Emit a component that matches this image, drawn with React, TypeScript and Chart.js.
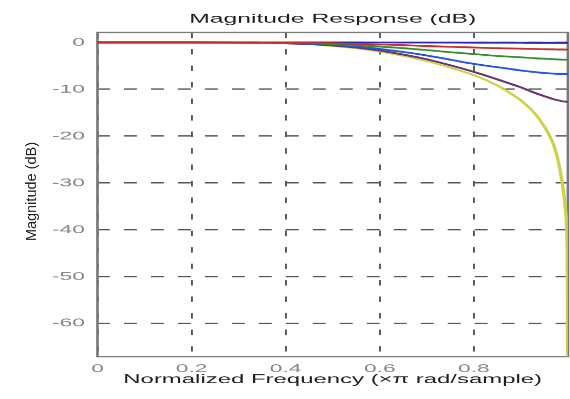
import React, { useEffect, useRef } from 'react';
import { Chart, registerables } from 'chart.js';

Chart.register(...registerables);

// ---- text ----
const TITLE = 'Magnitude Response (dB)';
const X_LABEL = 'Normalized Frequency (\u00D7\u03C0 rad/sample)';
const Y_LABEL = 'Magnitude (dB)';

// ---- ticks ----
const X_TICKS = [0, 0.2, 0.4, 0.6, 0.8];
const Y_TICKS = [0, -10, -20, -30, -40, -50, -60];

// ---- data (normalized frequency, magnitude in dB) ----
const FREQ = [0, 0.1, 0.2, 0.3, 0.35, 0.4, 0.45, 0.5, 0.55, 0.6, 0.65, 0.7, 0.75, 0.8, 0.85, 0.875, 0.9, 0.93, 0.95, 0.97, 0.98, 0.99, 0.995, 0.998, 0.999, 1.0];
const MAG_DARKBLUE = [0, 0, 0, 0, 0, 0, 0, 0, -0.01, -0.02, -0.03, -0.04, -0.05, -0.06, -0.07, -0.075, -0.08, -0.09, -0.09, -0.1, -0.1, -0.1, -0.1, -0.1, -0.1, -0.1];
const MAG_RED = [0, 0, 0, 0, -0.02, -0.05, -0.1, -0.18, -0.3, -0.45, -0.6, -0.8, -0.95, -1.1, -1.25, -1.3, -1.35, -1.42, -1.46, -1.5, -1.52, -1.53, -1.54, -1.55, -1.55, -1.55];
const MAG_GREEN = [0, 0, 0, -0.02, -0.05, -0.1, -0.2, -0.35, -0.6, -0.9, -1.25, -1.65, -2.1, -2.5, -2.9, -3.05, -3.2, -3.4, -3.5, -3.6, -3.65, -3.7, -3.7, -3.7, -3.7, -3.7];
const MAG_BLUE = [0, 0, 0, -0.03, -0.07, -0.15, -0.3, -0.55, -0.9, -1.4, -2.05, -2.8, -3.7, -4.6, -5.3, -5.65, -6.0, -6.35, -6.55, -6.68, -6.72, -6.75, -6.75, -6.75, -6.75, -6.75];
const MAG_PURPLE = [0, 0, 0, -0.04, -0.1, -0.2, -0.38, -0.68, -1.1, -1.75, -2.6, -3.6, -4.9, -6.3, -7.9, -8.75, -9.6, -10.8, -11.5, -12.15, -12.4, -12.6, -12.65, -12.7, -12.7, -12.7];
const MAG_YELLOW = [0, 0, 0, -0.04, -0.1, -0.22, -0.42, -0.78, -1.25, -1.95, -2.9, -4.0, -5.4, -7.0, -9.2, -10.7, -12.4, -15.2, -18.0, -22.0, -25.6, -31.5, -36.0, -42.0, -52.0, -100];

// ---- styles ----
const COLOR_RED = '#c43030';
const COLOR_DARKBLUE = '#2a2ab4';
const COLOR_GREEN = '#3f8a2a';
const COLOR_BLUE = '#1f55e0';
const COLOR_PURPLE = '#6a3570';
const COLOR_YELLOW = '#cdd24a';
const GRID_COLOR = '#555555';
const FRAME_COLOR = '#7a7a7a';
const TEXT_COLOR = '#1e1e1e';
const TICK_COLOR = '#858585';
const FONT = '"Liberation Sans", Arial, sans-serif';

// The reference is horizontally stretched; draw at a narrower logical width
// and let the device pixel ratio widen it.
const STRETCH = 1.9;
const LOGICAL_W = 300;
const LOGICAL_H = 399;
const YLABEL_X = 17.1;

const framePlugin = {
  id: 'frameAndYLabel',
  beforeDatasetsDraw(chart: any) {
    const { ctx, chartArea } = chart;
    const { left, top, right, bottom } = chartArea;
    ctx.save();
    ctx.strokeStyle = FRAME_COLOR;
    ctx.lineWidth = 1.4;
    ctx.setLineDash([]);
    ctx.strokeRect(left, top, right - left, bottom - top);
    ctx.restore();
  },
  afterDraw(chart: any) {
    const { ctx, chartArea } = chart;
    ctx.save();
    ctx.translate(YLABEL_X, (chartArea.top + chartArea.bottom) / 2 - 3);
    ctx.scale(1 / STRETCH, 1);
    ctx.rotate(-Math.PI / 2);
    ctx.font = `14.5px ${FONT}`;
    ctx.fillStyle = TEXT_COLOR;
    ctx.textAlign = 'center';
    ctx.textBaseline = 'middle';
    ctx.fillText(Y_LABEL, 0, 0);
    ctx.restore();
  },
};

export default function App() {
  const ref = useRef<HTMLCanvasElement>(null);

  useEffect(() => {
    const canvas = ref.current;
    if (!canvas) return;
    const mk = (vals: number[], color: string) => ({
      data: FREQ.map((f, i) => ({ x: f, y: vals[i] })),
      borderColor: color,
      backgroundColor: color,
      borderWidth: 1.8,
      pointRadius: 0,
      cubicInterpolationMode: 'monotone' as const,
      fill: false,
    });

    const chart = new Chart(canvas, {
      type: 'line',
      data: {
        datasets: [
          mk(MAG_RED, COLOR_RED),
          mk(MAG_DARKBLUE, COLOR_DARKBLUE),
          mk(MAG_GREEN, COLOR_GREEN),
          mk(MAG_BLUE, COLOR_BLUE),
          mk(MAG_PURPLE, COLOR_PURPLE),
          mk(MAG_YELLOW, COLOR_YELLOW),
        ],
      },
      options: {
        responsive: false,
        animation: false,
        devicePixelRatio: STRETCH,
        layout: { padding: { left: 0, right: 1.1, top: 0, bottom: 0 } },
        plugins: {
          legend: { display: false },
          tooltip: { enabled: false },
          title: {
            display: true,
            text: TITLE,
            fullSize: false,
            color: TEXT_COLOR,
            font: { family: FONT, size: 13, weight: 'normal' },
            padding: { top: 11.2, bottom: 5.7 },
          },
        },
        scales: {
          x: {
            type: 'linear',
            min: 0,
            max: 1,
            afterBuildTicks: (s: any) => {
              s.ticks = X_TICKS.map((v) => ({ value: v }));
            },
            afterFit: (s: any) => {
              s.height = 42.5;
            },
            grid: { color: GRID_COLOR, lineWidth: 1, drawTicks: false },
            border: { display: false, dash: [5.5, 11] },
            ticks: {
              color: TICK_COLOR,
              font: { family: FONT, size: 12 },
              padding: 5,
              maxRotation: 0,
              autoSkip: false,
              callback: (v: any) => String(v),
            },
            title: {
              display: true,
              text: X_LABEL,
              color: TEXT_COLOR,
              font: { family: FONT, size: 12.6, weight: 'normal' },
              padding: { top: 0, bottom: 11.6 },
            },
          },
          y: {
            type: 'linear',
            min: -67.1,
            max: 2.1,
            afterBuildTicks: (s: any) => {
              s.ticks = Y_TICKS.map((v) => ({ value: v }));
            },
            afterFit: (s: any) => {
              s.width = 51.3;
            },
            grid: { color: GRID_COLOR, lineWidth: 1.3, drawTicks: false },
            border: { display: false, dash: [6.8, 7.4] },
            ticks: {
              color: TICK_COLOR,
              font: { family: FONT, size: 12 },
              padding: 6.6,
              autoSkip: false,
              callback: (v: any) => String(v),
            },
            title: { display: false },
          },
        },
      } as any,
      plugins: [framePlugin],
    });

    return () => chart.destroy();
  }, []);

  return (
    <div style={{ position: 'fixed', left: 0, top: 0, width: 570, height: 399, background: '#fff' }}>
      <canvas
        ref={ref}
        width={LOGICAL_W}
        height={LOGICAL_H}
        style={{ display: 'block', width: '570px', height: '399px' }}
      />
    </div>
  );
}
